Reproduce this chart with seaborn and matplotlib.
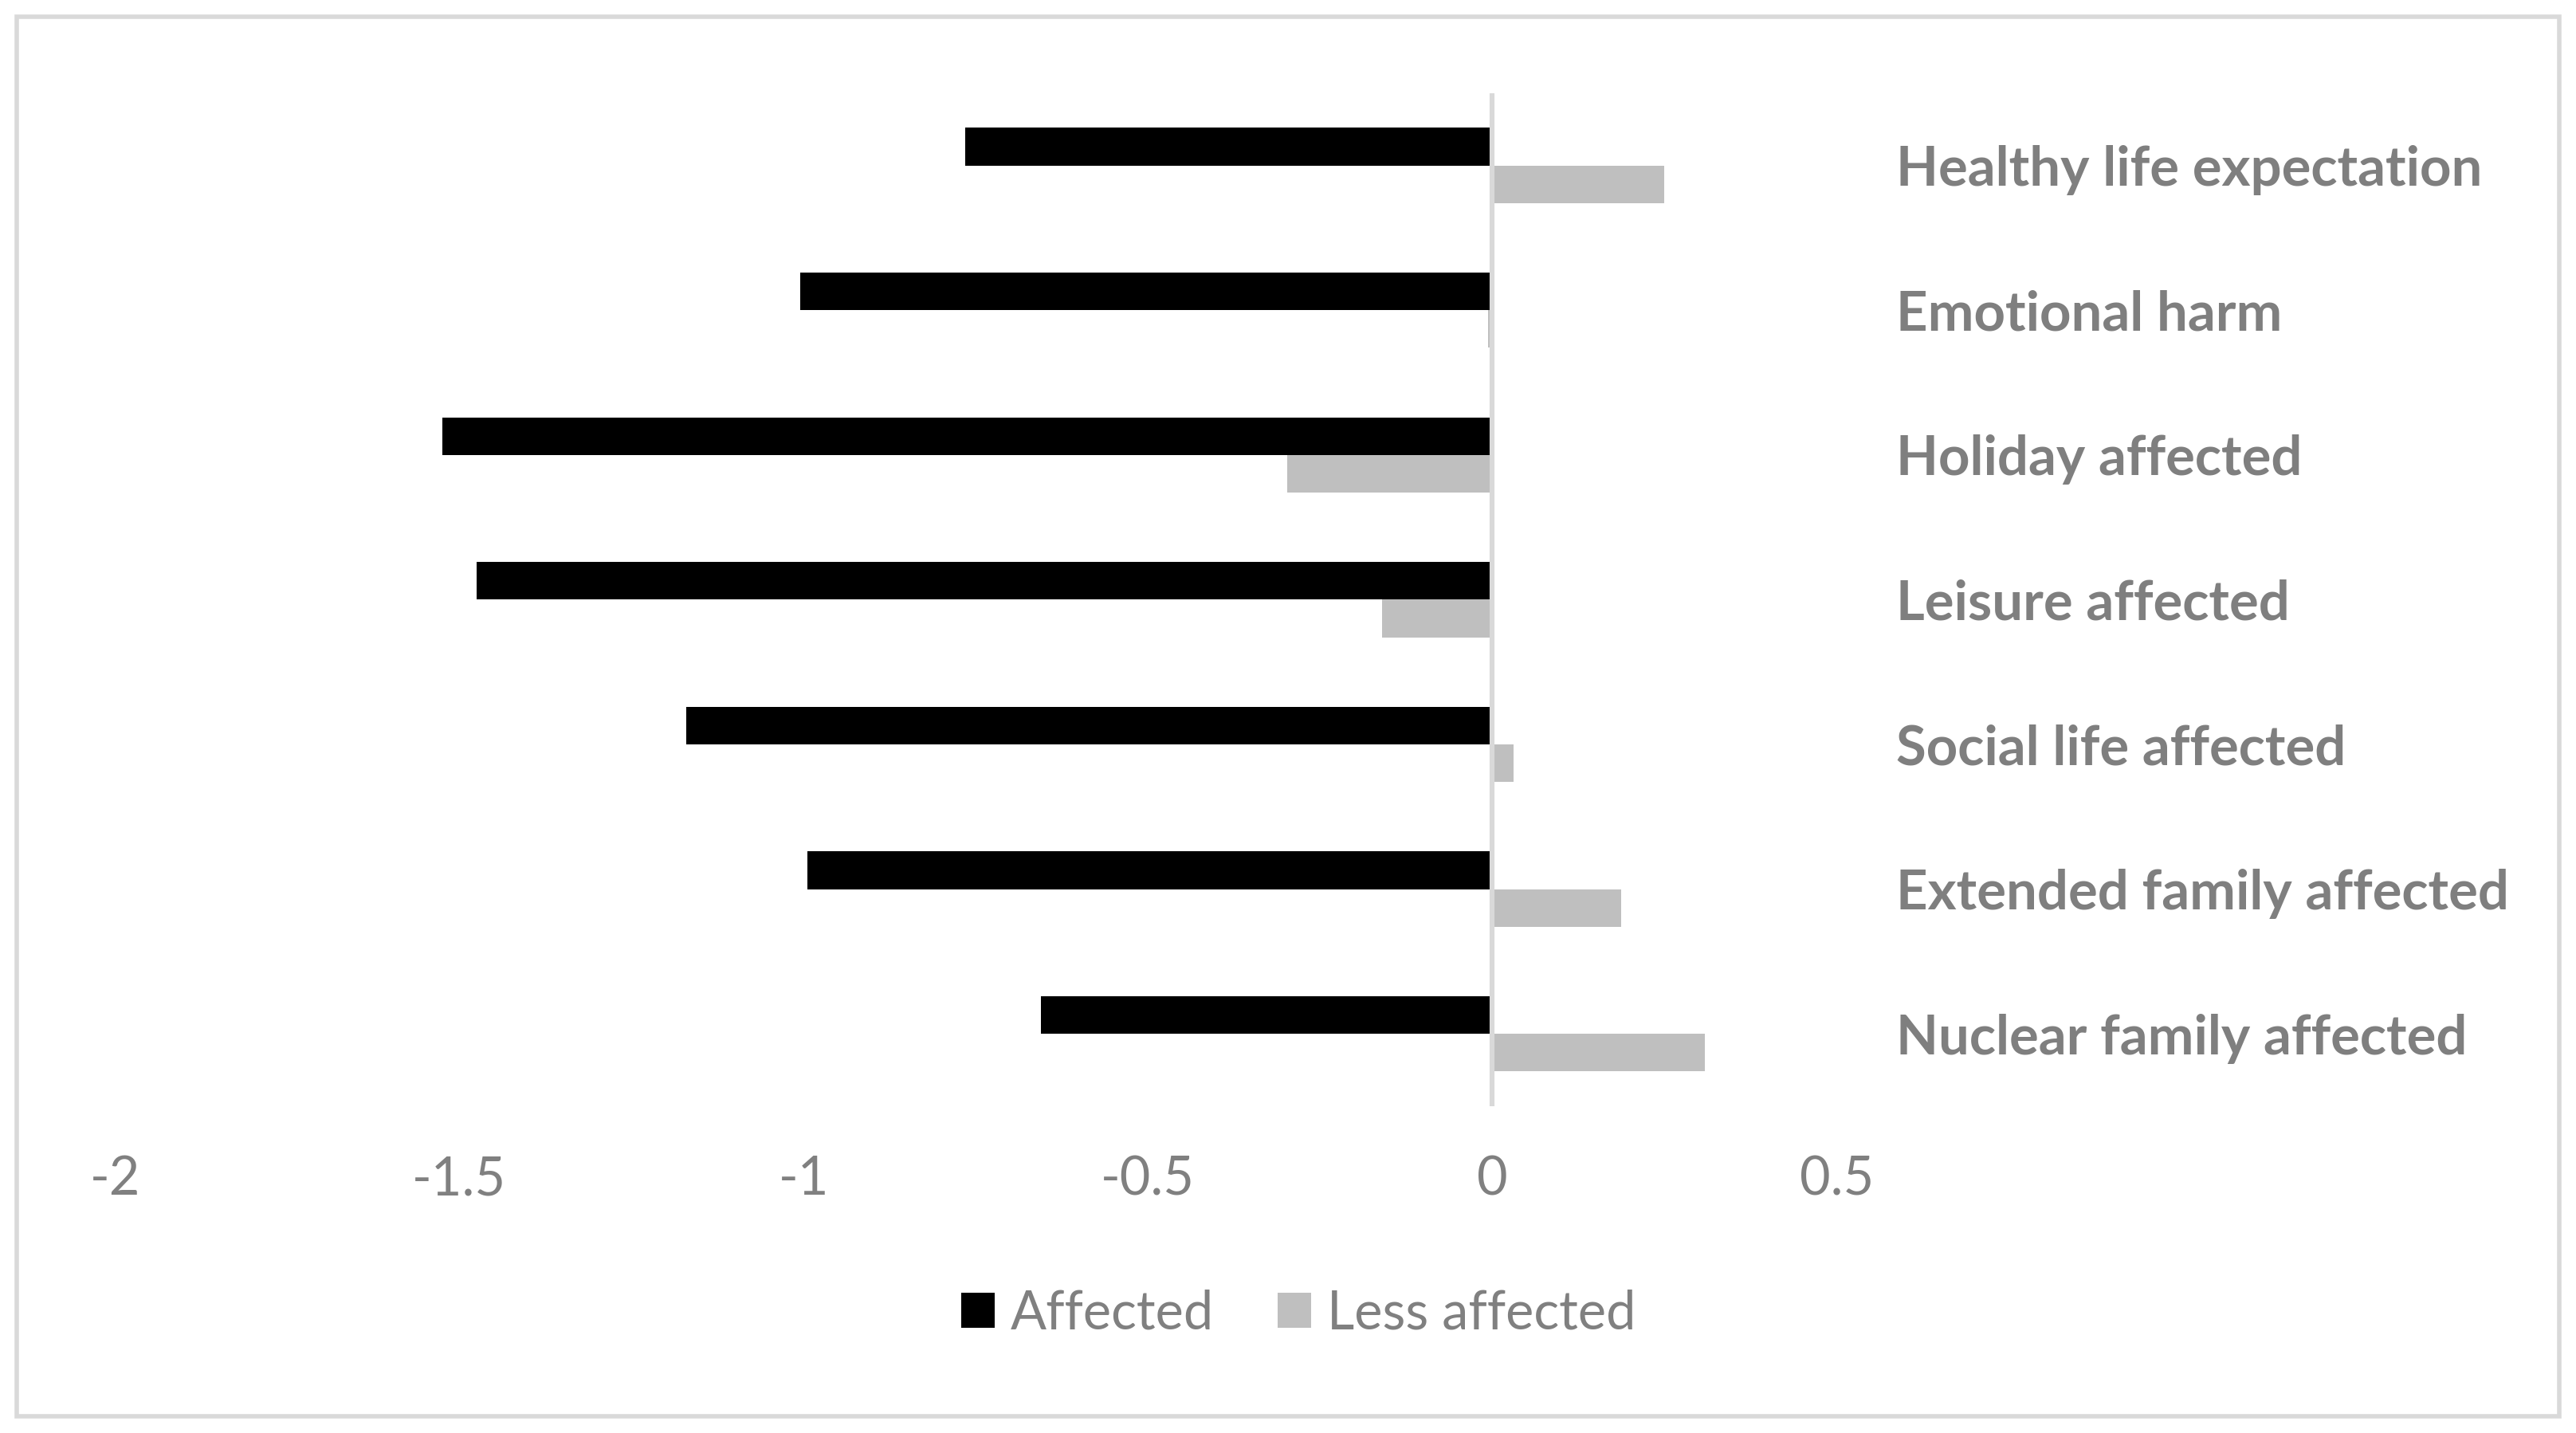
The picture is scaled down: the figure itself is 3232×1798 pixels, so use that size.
import pandas as pd
import matplotlib.pyplot as plt
import seaborn as sns
from matplotlib.patches import Rectangle

categories = [
    "Healthy life expectation",
    "Emotional harm",
    "Holiday affected",
    "Leisure affected",
    "Social life affected",
    "Extended family affected",
    "Nuclear family affected",
]
affected = [-0.765, -1.005, -1.525, -1.475, -1.17, -0.995, -0.655]
less_affected = [0.249, -0.006, -0.298, -0.16, 0.031, 0.187, 0.308]
x_ticks = [-2, -1.5, -1, -0.5, 0, 0.5]
x_tick_labels = ["-2", "-1.5", "-1", "-0.5", "0", "0.5"]

df = pd.concat([
    pd.DataFrame({"category": categories, "value": affected, "group": "Affected"}),
    pd.DataFrame({"category": categories, "value": less_affected, "group": "Less affected"}),
])

sns.set_theme(style="white")
plt.rcParams["font.family"] = ["Lato", "DejaVu Sans"]

text_grey = "#808080"

fig = plt.figure(figsize=(16.16, 8.99), dpi=200)
ax = fig.add_axes([0.0446, 0.228, 0.713 - 0.0446, 0.935 - 0.228])

sns.barplot(
    data=df, y="category", x="value", hue="group",
    palette=["#000000", "#bfbfbf"], orient="h", width=0.52,
    saturation=1, ax=ax, order=categories, linewidth=0,
)

ax.axvline(0, color="#d9d9d9", lw=2.2, zorder=5)
ax.set_xlim(-2, 0.5)
ax.set_xticks(x_ticks)
ax.set_xticklabels(x_tick_labels)
ax.set_xlabel("")
ax.set_ylabel("")
for s in ax.spines.values():
    s.set_visible(False)

ax.yaxis.tick_right()
ax.tick_params(axis="y", length=0, pad=27, labelsize=24.8, labelcolor="#7f7f7f")
for lbl in ax.get_yticklabels():
    lbl.set_fontweight("bold")
    lbl.set_horizontalalignment("left")
ax.tick_params(axis="x", length=0, pad=22, labelsize=24, labelcolor=text_grey)

ax.legend(
    loc="center", bbox_to_anchor=(0.504, 0.083), bbox_transform=fig.transFigure,
    ncol=2, frameon=False, fontsize=24, labelcolor=text_grey,
    handlelength=0.63, handleheight=0.63, handletextpad=0.3, columnspacing=1.2,
)

fig.patches.append(Rectangle((0.0064, 0.0115), 0.9872, 0.977, transform=fig.transFigure,
                             fill=False, edgecolor="#d9d9d9", lw=2))

fig.savefig("out.png", dpi=200, facecolor="white")
